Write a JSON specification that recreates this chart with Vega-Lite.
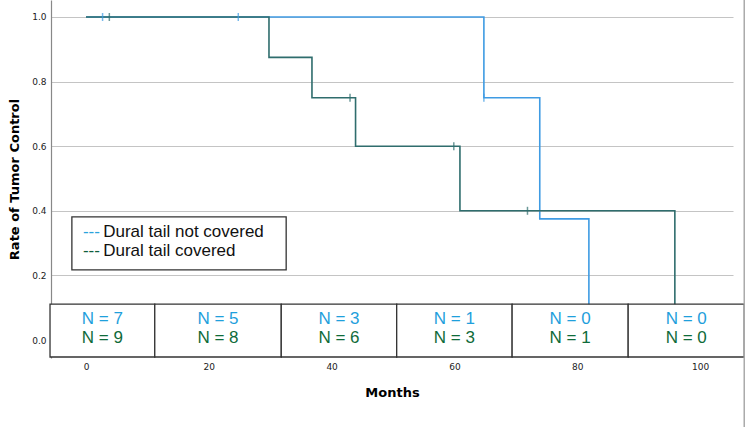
{
  "$schema": "https://vega.github.io/schema/vega-lite/v6.json",
  "width": 682,
  "height": 358,
  "autosize": {"type": "none"},
  "padding": {"left": 51, "top": 0, "right": 17, "bottom": 69},
  "background": "white",
  "config": {"view": {"stroke": null}, "font": "Liberation Sans"},
  "datasets": {
    "curves": [
      {"group": "Dural tail not covered", "month": 0, "rate": 1.0},
      {"group": "Dural tail not covered", "month": 64.8, "rate": 0.75},
      {"group": "Dural tail not covered", "month": 73.9, "rate": 0.375},
      {"group": "Dural tail not covered", "month": 81.9, "rate": 0.0},
      {"group": "Dural tail covered", "month": 0, "rate": 1.0},
      {"group": "Dural tail covered", "month": 29.8, "rate": 0.875},
      {"group": "Dural tail covered", "month": 36.8, "rate": 0.75},
      {"group": "Dural tail covered", "month": 43.9, "rate": 0.6},
      {"group": "Dural tail covered", "month": 60.9, "rate": 0.4},
      {"group": "Dural tail covered", "month": 95.9, "rate": 0.0}
    ],
    "censor": [
      {"group": "Dural tail not covered", "month": 2.7, "rate": 1.0},
      {"group": "Dural tail not covered", "month": 24.8, "rate": 1.0},
      {"group": "Dural tail not covered", "month": 64.8, "rate": 0.75},
      {"group": "Dural tail covered", "month": 3.8, "rate": 1.0},
      {"group": "Dural tail covered", "month": 43.0, "rate": 0.75},
      {"group": "Dural tail covered", "month": 59.9, "rate": 0.6},
      {"group": "Dural tail covered", "month": 71.9, "rate": 0.4}
    ],
    "risk": [
      {"from": -5.86, "to": 11.2, "not_covered": 7, "covered": 9},
      {"from": 11.2, "to": 31.8, "not_covered": 5, "covered": 8},
      {"from": 31.8, "to": 50.6, "not_covered": 3, "covered": 6},
      {"from": 50.6, "to": 69.4, "not_covered": 1, "covered": 3},
      {"from": 69.4, "to": 88.3, "not_covered": 0, "covered": 1},
      {"from": 88.3, "to": 107.2, "not_covered": 0, "covered": 0}
    ],
    "one": [{}]
  },
  "layer": [
    {
      "data": {"name": "curves"},
      "transform": [{"filter": "datum.group === 'Dural tail not covered'"}],
      "mark": {"type": "line", "interpolate": "step-after", "color": "#3f9be3", "strokeWidth": 1.6, "clip": false},
      "encoding": {
        "x": {
          "field": "month", "type": "quantitative",
          "scale": {"domain": [-5.7, 105.37], "nice": false, "zero": false},
          "axis": {
            "values": [0, 20, 40, 60, 80, 100], "grid": false, "domain": false, "ticks": false,
            "labelPadding": 4, "labelFont": "DejaVu Sans", "labelFontSize": 9, "labelColor": "#222",
            "title": "Months", "titleFont": "DejaVu Sans", "titleFontSize": 13, "titleFontWeight": "bold",
            "titleColor": "#000", "titlePadding": 15
          }
        },
        "y": {
          "field": "rate", "type": "quantitative",
          "scale": {"domain": [-0.0557, 1.0526], "nice": false, "zero": false},
          "axis": {
            "values": [0, 0.2, 0.4, 0.6, 0.8, 1.0], "format": ".1f", "grid": true, "gridColor": "#c4c4c4", "gridWidth": 1.2,
            "domain": true, "domainColor": "#888", "domainWidth": 1.2, "ticks": false,
            "labelPadding": 5, "labelFont": "DejaVu Sans", "labelFontSize": 9, "labelColor": "#222",
            "title": "Rate of Tumor Control", "titleFont": "DejaVu Sans", "titleFontSize": 13, "titleFontWeight": "bold",
            "titleColor": "#000", "titlePadding": 10
          }
        }
      }
    },
    {
      "data": {"name": "curves"},
      "transform": [{"filter": "datum.group === 'Dural tail covered'"}],
      "mark": {"type": "line", "interpolate": "step-after", "color": "#2f6d6d", "strokeWidth": 1.6, "clip": false},
      "encoding": {
        "x": {"field": "month", "type": "quantitative"},
        "y": {"field": "rate", "type": "quantitative"}
      }
    },
    {
      "data": {"name": "censor"},
      "mark": {"type": "tick", "orient": "vertical", "size": 8, "thickness": 1.5},
      "encoding": {
        "x": {"field": "month", "type": "quantitative"},
        "y": {"field": "rate", "type": "quantitative"},
        "color": {
          "field": "group", "type": "nominal",
          "scale": {"domain": ["Dural tail not covered", "Dural tail covered"], "range": ["#3f9be3", "#2f6d6d"]},
          "legend": null
        }
      }
    },
    {
      "data": {"name": "one"},
      "mark": {"type": "rect", "fill": "white", "stroke": "#333", "strokeWidth": 1.3},
      "encoding": {
        "x": {"datum": -2.3, "type": "quantitative"},
        "x2": {"datum": 32.6},
        "y": {"datum": 0.381, "type": "quantitative"},
        "y2": {"datum": 0.217}
      }
    },
    {
      "data": {"name": "one"},
      "mark": {"type": "text", "text": "---", "align": "left", "baseline": "middle", "fontSize": 17, "color": "#29a3dc"},
      "encoding": {"x": {"datum": -0.5, "type": "quantitative"}, "y": {"datum": 0.334, "type": "quantitative"}}
    },
    {
      "data": {"name": "one"},
      "mark": {"type": "text", "text": "---", "align": "left", "baseline": "middle", "fontSize": 17, "color": "#0e5e3c"},
      "encoding": {"x": {"datum": -0.5, "type": "quantitative"}, "y": {"datum": 0.276, "type": "quantitative"}}
    },
    {
      "data": {"name": "one"},
      "mark": {"type": "text", "text": "Dural tail not covered", "align": "left", "baseline": "middle", "fontSize": 17, "color": "#111"},
      "encoding": {"x": {"datum": 2.8, "type": "quantitative"}, "y": {"datum": 0.334, "type": "quantitative"}}
    },
    {
      "data": {"name": "one"},
      "mark": {"type": "text", "text": "Dural tail covered", "align": "left", "baseline": "middle", "fontSize": 17, "color": "#111"},
      "encoding": {"x": {"datum": 2.8, "type": "quantitative"}, "y": {"datum": 0.276, "type": "quantitative"}}
    },
    {
      "data": {"name": "risk"},
      "mark": {"type": "rect", "fill": "white", "stroke": "#333", "strokeWidth": 1.3, "clip": false},
      "encoding": {
        "x": {"field": "from", "type": "quantitative"},
        "x2": {"field": "to"},
        "y": {"datum": 0.111, "type": "quantitative"},
        "y2": {"datum": -0.0526}
      }
    },
    {
      "data": {"name": "risk"},
      "transform": [
        {"calculate": "(datum.from + datum.to) / 2", "as": "mid"},
        {"calculate": "'N = ' + datum.not_covered", "as": "label"}
      ],
      "mark": {"type": "text", "align": "center", "baseline": "middle", "fontSize": 17, "color": "#1fa0dc"},
      "encoding": {
        "x": {"field": "mid", "type": "quantitative"},
        "y": {"datum": 0.065, "type": "quantitative"},
        "text": {"field": "label"}
      }
    },
    {
      "data": {"name": "risk"},
      "transform": [
        {"calculate": "(datum.from + datum.to) / 2", "as": "mid"},
        {"calculate": "'N = ' + datum.covered", "as": "label"}
      ],
      "mark": {"type": "text", "align": "center", "baseline": "middle", "fontSize": 17, "color": "#0f6b3a"},
      "encoding": {
        "x": {"field": "mid", "type": "quantitative"},
        "y": {"datum": 0.006, "type": "quantitative"},
        "text": {"field": "label"}
      }
    },
    {
      "data": {"name": "one"},
      "mark": {"type": "rule", "color": "#aaa", "strokeWidth": 1.5, "clip": false},
      "encoding": {
        "x": {"datum": 107.2, "type": "quantitative"},
        "y": {"datum": 1.0526, "type": "quantitative"},
        "y2": {"datum": -0.27}
      }
    }
  ]
}
